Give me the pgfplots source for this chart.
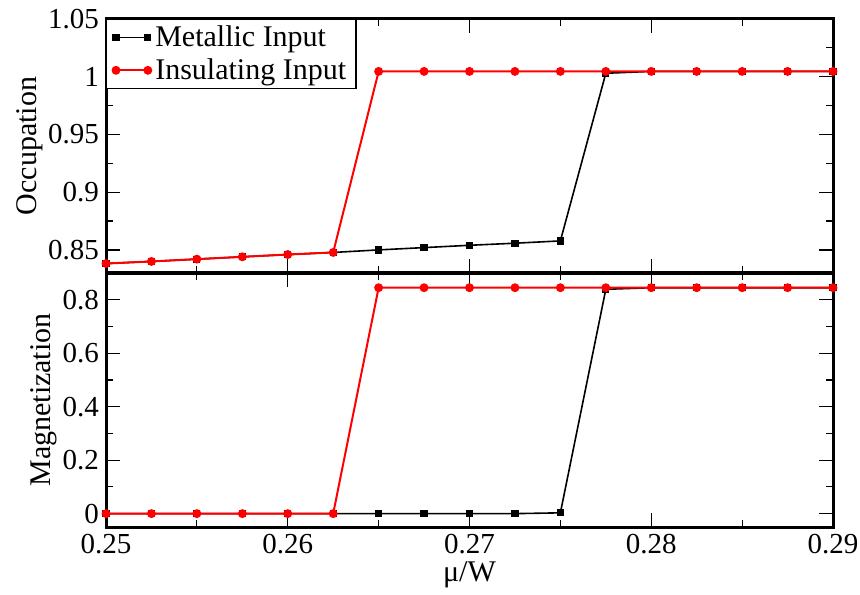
\documentclass[border=0pt]{standalone}
\usepackage{fontspec}
\setmainfont{Liberation Serif}
\usepackage{pgfplots}
\pgfplotsset{compat=1.18}

% mu/W, occupation (metallic, insulating), magnetization (metallic, insulating)
\pgfplotstableread{
mu     occM   occI   magM   magI
0.2500 0.8382 0.8382 0.000  0.000
0.2525 0.8400 0.8400 0.000  0.000
0.2550 0.8420 0.8420 0.000  0.000
0.2575 0.8440 0.8440 0.000  0.000
0.2600 0.8460 0.8460 0.000  0.000
0.2625 0.8478 0.8478 0.000  0.000
0.2650 0.8500 1.0046 0.000  0.845
0.2675 0.8520 1.0046 0.000  0.845
0.2700 0.8540 1.0046 0.000  0.845
0.2725 0.8558 1.0046 0.000  0.845
0.2750 0.8578 1.0046 0.003  0.845
0.2775 1.0030 1.0046 0.839  0.845
0.2800 1.0046 1.0046 0.845  0.845
0.2825 1.0046 1.0046 0.845  0.845
0.2850 1.0046 1.0046 0.845  0.845
0.2875 1.0046 1.0046 0.845  0.845
0.2900 1.0046 1.0046 0.845  0.845
}\data

\pgfplotsset{
  panel/.style={
    scale only axis, width=363.5pt, height=127pt,
    xmin=0.25, xmax=0.29,
    xtick={0.25,0.26,0.27,0.28,0.29}, minor x tick num=1, minor y tick num=1,
    tick align=inside, xtick pos=both, ytick pos=both,
    major tick length=7pt, minor tick length=3.5pt,
    every tick/.style={black, line width=0.6pt},
    axis line style={line width=1.5pt},
    scaled ticks=false,
    /pgf/number format/assume math mode=true,
    /pgf/number format/fixed, /pgf/number format/precision=2,
    tick label style={font=\fontsize{14.5}{16}\selectfont},
    label style={font=\fontsize{15}{17}\selectfont},
    ylabel style={yshift=-4pt},
  },
  metal/.style={black, line width=0.8pt, mark=square*, mark size=1.4pt, mark options={solid}},
  insul/.style={red, line width=1pt, mark=*, mark size=1.7pt, mark options={solid}},
}

\begin{document}
\begin{tikzpicture}
\useasboundingbox (-53pt,-33.5pt) rectangle (377pt,263.5pt);
\begin{axis}[panel, at={(0,127pt)},
  ymin=0.83, ymax=1.05, ytick={0.85,0.9,0.95,1,1.05},
  xticklabels={}, ylabel={Occupation},
  legend style={at={(axis description cs:0,1)}, anchor=north west,
    draw=black, line width=0.6pt, fill=white,
    font=\fontsize{15}{17}\selectfont, row sep=0.5pt,
    inner xsep=3pt, inner ysep=1pt},
  legend cell align=left,
  legend image code/.code={
    \draw[mark repeat=2, mark phase=1, #1] plot coordinates {(0cm,0cm) (0.28cm,0cm) (0.56cm,0cm)};},
]
\addplot[metal] table[x=mu, y=occM] {\data};
\addlegendentry{Metallic Input}
\addplot[insul] table[x=mu, y=occI] {\data};
\addlegendentry{Insulating Input}
\end{axis}

\begin{axis}[panel, at={(0,0)},
  ymin=-0.05, ymax=0.9, ytick={0,0.2,0.4,0.6,0.8},
  ylabel={Magnetization}, xlabel={μ/W},
  xlabel style={yshift=3pt},
]
\addplot[metal] table[x=mu, y=magM] {\data};
\addplot[insul] table[x=mu, y=magI] {\data};
\end{axis}
\end{tikzpicture}
\end{document}
